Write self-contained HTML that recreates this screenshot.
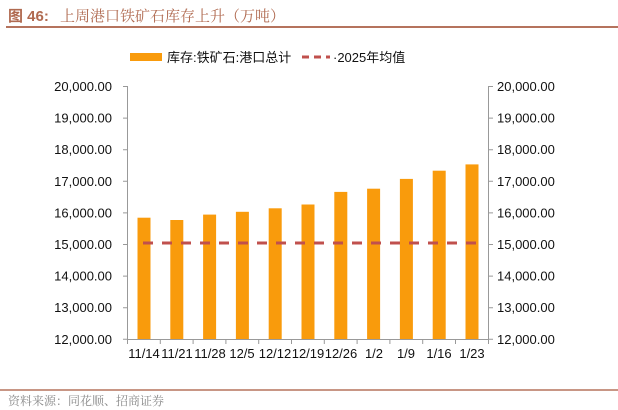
<!DOCTYPE html>
<html><head><meta charset="utf-8"><style>
body{margin:0;background:#fff;}
svg{display:block;font-family:"Liberation Sans","Noto Sans CJK SC",sans-serif;}
</style></head><body>
<svg width="618" height="410" viewBox="0 0 618 410">
<text x="8" y="21" font-size="15" fill="#b06a50" font-weight="bold" font-family="'Liberation Sans','Noto Sans CJK SC',sans-serif">图 46:</text>
<text x="60" y="21" font-size="15" fill="#b06a50" font-family="'Noto Serif CJK SC','Noto Sans CJK SC',sans-serif">上周港口铁矿石库存上升（万吨）</text>
<line x1="6" y1="27" x2="618" y2="27" stroke="#b5735d" stroke-width="2"/>
<rect x="130" y="53" width="32" height="8" fill="#f99b0c"/>
<text x="167" y="62" font-size="13" fill="#111">库存:铁矿石:港口总计</text>
<line x1="302" y1="57" x2="330" y2="57" stroke="#c0504d" stroke-width="3" stroke-dasharray="7,5"/>
<text x="333" y="62" font-size="13" fill="#111">·2025年均值</text>
<g font-size="13" fill="#111">
<g text-anchor="end">
<text x="112" y="91">20,000.00</text><text x="112" y="122.6">19,000.00</text><text x="112" y="154.2">18,000.00</text><text x="112" y="185.8">17,000.00</text><text x="112" y="217.4">16,000.00</text><text x="112" y="249">15,000.00</text><text x="112" y="280.6">14,000.00</text><text x="112" y="312.2">13,000.00</text><text x="112" y="343.8">12,000.00</text>
</g>
<g>
<text x="497" y="91">20,000.00</text><text x="497" y="122.6">19,000.00</text><text x="497" y="154.2">18,000.00</text><text x="497" y="185.8">17,000.00</text><text x="497" y="217.4">16,000.00</text><text x="497" y="249">15,000.00</text><text x="497" y="280.6">14,000.00</text><text x="497" y="312.2">13,000.00</text><text x="497" y="343.8">12,000.00</text>
</g>
</g>
<g stroke="#999" stroke-width="1">
<line x1="127.5" y1="86" x2="127.5" y2="339"/>
<line x1="488.5" y1="86" x2="488.5" y2="339"/>
<line x1="127" y1="339.5" x2="489" y2="339.5"/>
<path d="M123 86.5h5M123 118.1h5M123 149.7h5M123 181.3h5M123 212.9h5M123 244.5h5M123 276.1h5M123 307.7h5M123 339.3h5"/>
<path d="M488 86.5h5M488 118.1h5M488 149.7h5M488 181.3h5M488 212.9h5M488 244.5h5M488 276.1h5M488 307.7h5M488 339.3h5"/>
<path d="M127.5 339v5M160.3 339v5M193.1 339v5M225.9 339v5M258.7 339v5M291.5 339v5M324.3 339v5M357.1 339v5M389.9 339v5M422.7 339v5M455.5 339v5M488.5 339v5"/>
</g>
<g fill="#f99b0c">
<rect x="137.5" y="217.7" width="13" height="121.3"/>
<rect x="170.3" y="220.0" width="13" height="119"/>
<rect x="203.1" y="214.6" width="13" height="124.4"/>
<rect x="235.9" y="211.8" width="13" height="127.2"/>
<rect x="268.7" y="208.3" width="13" height="130.7"/>
<rect x="301.5" y="204.5" width="13" height="134.5"/>
<rect x="334.3" y="191.9" width="13" height="147.1"/>
<rect x="367.1" y="188.7" width="13" height="150.3"/>
<rect x="399.9" y="178.9" width="13" height="160.1"/>
<rect x="432.7" y="170.7" width="13" height="168.3"/>
<rect x="465.5" y="164.4" width="13" height="174.6"/>
</g>
<line x1="143" y1="243" x2="479" y2="243" stroke="#c0504d" stroke-width="3" stroke-dasharray="10,9"/>
<g font-size="13" fill="#111" text-anchor="middle">
<text x="144" y="358">11/14</text><text x="177" y="358">11/21</text><text x="210" y="358">11/28</text><text x="242" y="358">12/5</text><text x="275" y="358">12/12</text><text x="308" y="358">12/19</text><text x="341" y="358">12/26</text><text x="374" y="358">1/2</text><text x="406" y="358">1/9</text><text x="439" y="358">1/16</text><text x="472" y="358">1/23</text>
</g>
<line x1="0" y1="390" x2="618" y2="390" stroke="#b5735d" stroke-width="1.5"/>
<text x="8" y="405" font-size="12" fill="#888" font-family="'Noto Serif CJK SC','Noto Sans CJK SC',sans-serif">资料来源：同花顺、招商证券</text>
</svg>
</body></html>
